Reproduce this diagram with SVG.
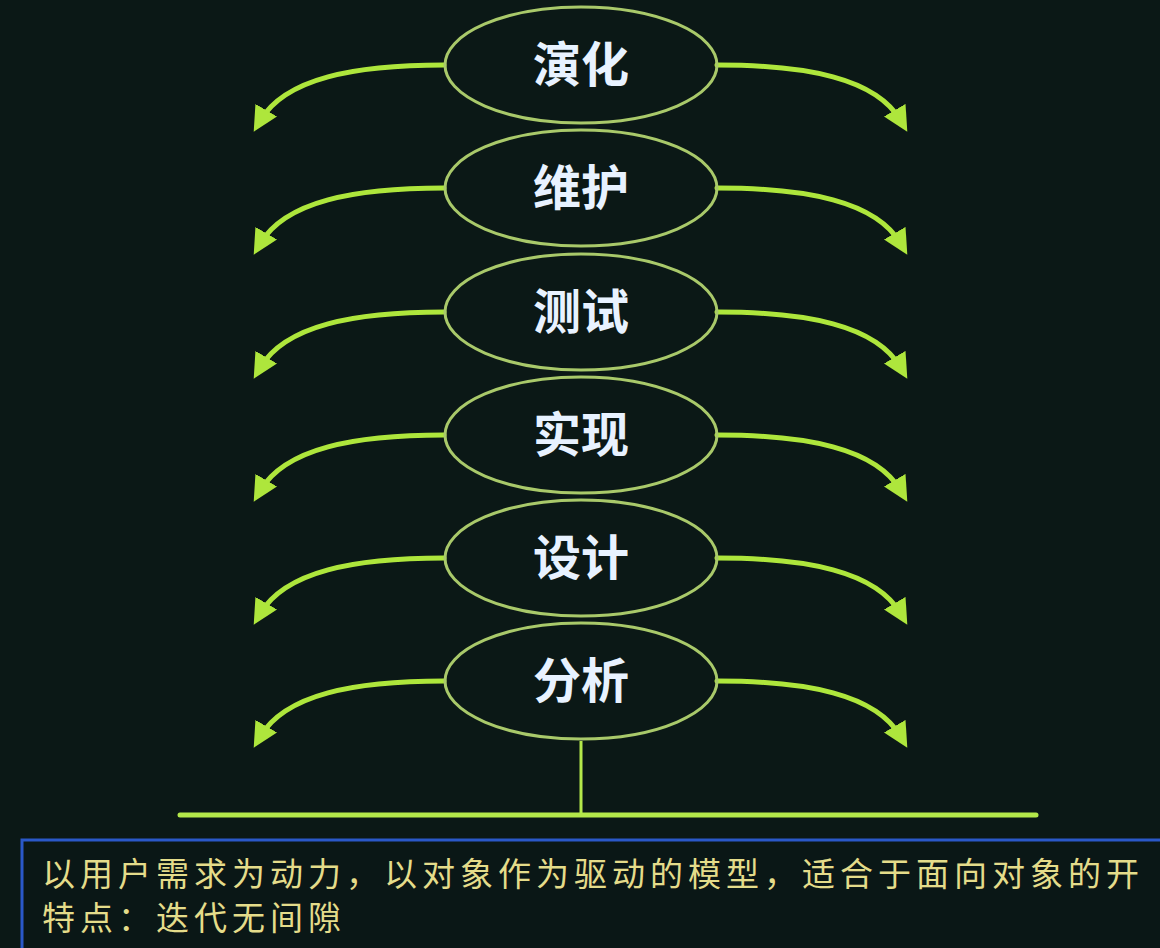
<svg xmlns="http://www.w3.org/2000/svg" width="1160" height="948" viewBox="0 0 1160 948">
<defs>
<style>
.bg{fill:#0b1816}
.node ellipse{fill:none;stroke:#a9c96a;stroke-width:3}
.node text{font-family:"Noto Sans CJK SC","Noto Sans",sans-serif;font-size:48px;font-weight:bold;fill:#e8f2ff;text-anchor:middle}
.arr{fill:none;stroke:#aee63c;stroke-width:5;stroke-linecap:round;marker-end:url(#ah)}
.ln{stroke:#b4e84a;fill:none}
.note{font-family:"Noto Sans CJK SC","Noto Sans",sans-serif;font-size:33px;letter-spacing:5px;fill:#e4dc8a}
</style>
<marker id="ah" viewBox="0 0 10 10" refX="5" refY="5" markerWidth="5" markerHeight="5" orient="auto" markerUnits="strokeWidth">
<path d="M0,0 L10,5 L0,10 Z" fill="#aee63c"/>
</marker>
</defs>
<rect class="bg" x="0" y="0" width="1160" height="948"/>
<g id="connectors">
<path class="arr" d="M444,65 C355,65 285,78 260,121"/>
<path class="arr" d="M717,65 C806,65 876,78 901,121"/>
<path class="arr" d="M444,188 C355,188 285,201 260,244"/>
<path class="arr" d="M717,188 C806,188 876,201 901,244"/>
<path class="arr" d="M444,312 C355,312 285,325 260,368"/>
<path class="arr" d="M717,312 C806,312 876,325 901,368"/>
<path class="arr" d="M444,435 C355,435 285,448 260,491"/>
<path class="arr" d="M717,435 C806,435 876,448 901,491"/>
<path class="arr" d="M444,558 C355,558 285,571 260,614"/>
<path class="arr" d="M717,558 C806,558 876,571 901,614"/>
<path class="arr" d="M444,681 C355,681 285,694 260,737"/>
<path class="arr" d="M717,681 C806,681 876,694 901,737"/>
<line class="ln" x1="581" y1="741" x2="581" y2="815" stroke-width="3"/>
<line class="ln" x1="180" y1="815" x2="1036" y2="815" stroke-width="5" stroke-linecap="round"/>
</g>
<g id="n1" class="node"><ellipse cx="581" cy="65" rx="136" ry="58"/><text x="581" y="82">演化</text></g>
<g id="n2" class="node"><ellipse cx="581" cy="188" rx="136" ry="58"/><text x="581" y="205">维护</text></g>
<g id="n3" class="node"><ellipse cx="581" cy="312" rx="136" ry="58"/><text x="581" y="329">测试</text></g>
<g id="n4" class="node"><ellipse cx="581" cy="435" rx="136" ry="58"/><text x="581" y="452">实现</text></g>
<g id="n5" class="node"><ellipse cx="581" cy="558" rx="136" ry="58"/><text x="581" y="575">设计</text></g>
<g id="n6" class="node"><ellipse cx="581" cy="681" rx="136" ry="58"/><text x="581" y="698">分析</text></g>
<g id="note">
<rect x="22" y="840" width="1150" height="120" fill="#0a1716" stroke="#2a58c8" stroke-width="3"/>
<text class="note" x="42" y="886">以用户需求为动力，以对象作为驱动的模型，适合于面向对象的开</text>
<text class="note" x="42" y="930">特点：迭代无间隙</text>
</g>
</svg>
